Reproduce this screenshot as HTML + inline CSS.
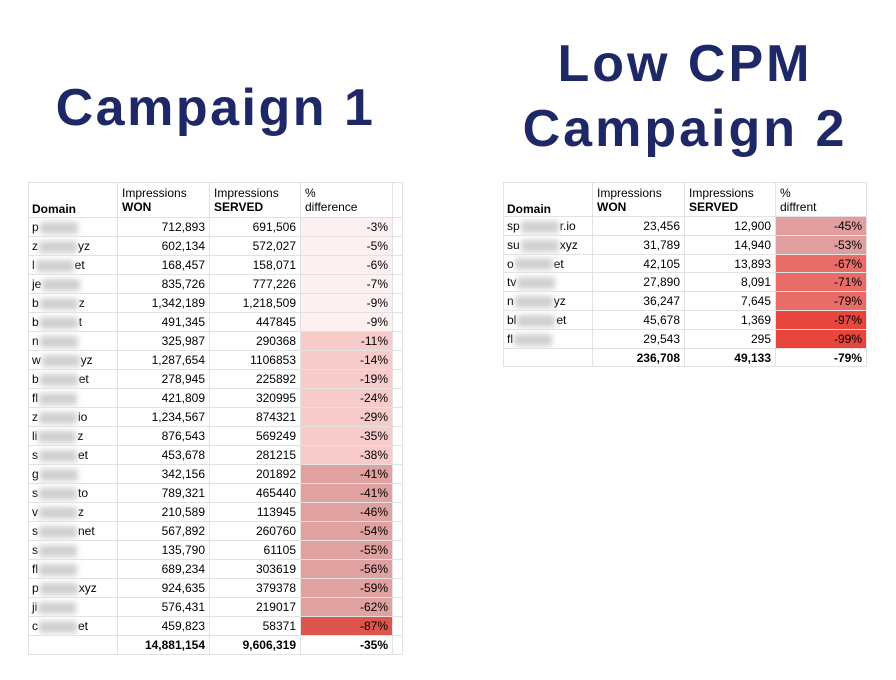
<!DOCTYPE html>
<html><head><meta charset="utf-8">
<style>
body{margin:0;width:896px;height:680px;background:#fff;position:relative;overflow:hidden;font-family:"Liberation Sans",Arial,sans-serif;}
.title{position:absolute;color:#1f2867;font-weight:bold;font-size:52px;text-align:center;letter-spacing:3px;line-height:1;}
.c{position:absolute;box-sizing:border-box;font-size:12px;color:#000;border-right:1px solid #e2e2e2;border-bottom:1px solid #e2e2e2;padding:0 4px;white-space:nowrap;overflow:hidden;}
.r{text-align:right}
.b{font-weight:bold}
.blur{display:inline-block;width:38px;height:12px;background:#d0d0d0;filter:blur(3px);vertical-align:middle;margin:0 1px;}
</style></head><body>
<div class="title" style="left:28px;width:375px;top:82px;letter-spacing:2.5px;">Campaign 1</div>
<div class="title" style="left:503px;width:364px;top:32px;line-height:65px;">Low CPM<br>Campaign 2</div>
<div id="t1"></div>
<div id="t2"></div>
<script>
const domains1=[["p",""],["z","yz"],["l","et"],["je",""],["b","z"],["b","t"],["n",""],["w","yz"],["b","et"],["fl",""],["z","io"],["li","z"],["s","et"],["g",""],["s","to"],["v","z"],["s","net"],["s",""],["fl",""],["p","xyz"],["ji",""],["c","et"]];
const won1=["712,893","602,134","168,457","835,726","1,342,189","491,345","325,987","1,287,654","278,945","421,809","1,234,567","876,543","453,678","342,156","789,321","210,589","567,892","135,790","689,234","924,635","576,431","459,823"];
const served1=["691,506","572,027","158,071","777,226","1,218,509","447845","290368","1106853","225892","320995","874321","569249","281215","201892","465440","113945","260760","61105","303619","379378","219017","58371"];
const pct1=[-3,-5,-6,-7,-9,-9,-11,-14,-19,-24,-29,-35,-38,-41,-41,-46,-54,-55,-56,-59,-62,-87];
const total1=["14,881,154","9,606,319","-35%"];
const domains2=[["sp","r.io"],["su","xyz"],["o","et"],["tv",""],["n","yz"],["bl","et"],["fl",""]];
const won2=["23,456","31,789","42,105","27,890","36,247","45,678","29,543"];
const served2=["12,900","14,940","13,893","8,091","7,645","1,369","295"];
const pct2=[-45,-53,-67,-71,-79,-97,-99];
const total2=["236,708","49,133","-79%"];
function color1(p){if(p>-10)return"#fdf0f0";if(p>-40)return"#f8cbcb";if(p>-80)return"#e0a1a1";return"#de554e";}
function color2(p){if(p>-60)return"#e09e9e";if(p>-90)return"#e86d69";return"#e8463c";}
function build(id,x,y,cols,hh,rh,doms,won,served,pct,total,pctLabel,colorFn,extra){
 const root=document.getElementById(id);
 const xs=[x];cols.forEach(w=>xs.push(xs[xs.length-1]+w));
 function cell(ci,top,h,html,cls,bg){const d=document.createElement('div');d.className='c '+(cls||'');
  
  
  d.style.left=xs[ci]+'px';d.style.top=top+'px';d.style.width=cols[ci]+'px';d.style.height=h+'px';d.style.lineHeight=h+'px';
  if(bg)d.style.background=bg;d.innerHTML=html;root.appendChild(d);return d;}
 const hdr=[['<b>Domain</b>',''],['Impressions<br><b>WON</b>',''],['Impressions<br><b>SERVED</b>',''],['%<br>'+pctLabel,'']];
 hdr.forEach((h,i)=>{const d=cell(i,y,hh,h[0]);d.style.lineHeight='14px';d.style.paddingTop=(i==0?20:4)+'px';});
 if(extra)cell(4,y,hh,'');
 for(let i=0;i<won.length;i++){const t=y+hh+i*rh;
  cell(0,t,rh,doms[i][0]+'<span class="blur"></span>'+doms[i][1]);
  cell(1,t,rh,won[i],'r');cell(2,t,rh,served[i],'r');
  cell(3,t,rh,pct[i]+'%','r',colorFn(pct[i]));
  if(extra)cell(4,t,rh,'');}
 const t=y+hh+won.length*rh;
 cell(0,t,rh,'');cell(1,t,rh,total[0],'r b');cell(2,t,rh,total[1],'r b');cell(3,t,rh,total[2],'r b');
 if(extra)cell(4,t,rh,'');
 const top=document.createElement('div');top.style.cssText='position:absolute;left:'+x+'px;top:'+y+'px;width:'+(xs[xs.length-1]-x)+'px;border-top:1px solid #e2e2e2;';root.appendChild(top);
 const lf=document.createElement('div');lf.style.cssText='position:absolute;left:'+x+'px;top:'+y+'px;height:'+(t+rh-y)+'px;border-left:1px solid #e2e2e2;';root.appendChild(lf);
}
build('t1',28,182,[90,92,91,92,10],36,19.0,domains1,won1,served1,pct1,total1,'difference',color1,true);
build('t2',503,182,[90,92,91,91],35,18.8,domains2,won2,served2,pct2,total2,'diffrent',color2,false);
</script>
</body></html>
